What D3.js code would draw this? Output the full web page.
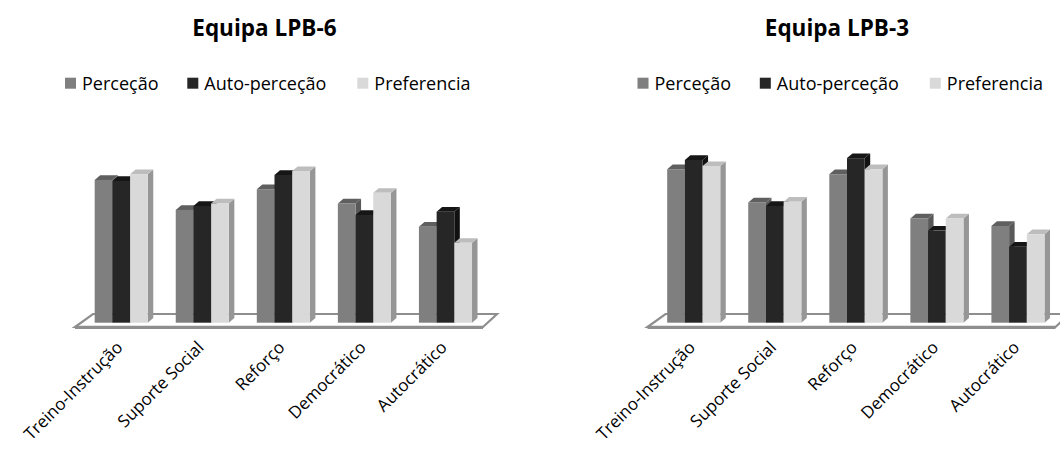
<!DOCTYPE html>
<html>
<head>
<meta charset="utf-8">
<script src="https://cdn.jsdelivr.net/npm/d3@7"></script>
<style>
  html, body { margin: 0; padding: 0; background: #ffffff; }
  svg { display: block; }
  text { font-family: "Open Sans", "Noto Sans", sans-serif; fill: #000; }
</style>
</head>
<body>
<svg id="chart" width="1060" height="450"></svg>
<script>
// ---------- DATA ----------
const categories = ["Treino-Instrução", "Suporte Social", "Reforço", "Democrático", "Autocrático"];
const seriesNames = ["Perceção", "Auto-perceção", "Preferencia"];
const chartTitles = ["Equipa LPB-6", "Equipa LPB-3"];

const lpb6Percecao      = [4.00, 3.16, 3.74, 3.34, 2.69];
const lpb6AutoPercecao  = [3.97, 3.27, 4.14, 3.02, 3.11];
const lpb6Preferencia   = [4.16, 3.34, 4.25, 3.64, 2.24];

const lpb3Percecao      = [4.30, 3.37, 4.16, 2.92, 2.71];
const lpb3AutoPercecao  = [4.56, 3.27, 4.61, 2.58, 2.13];
const lpb3Preferencia   = [4.39, 3.39, 4.30, 2.92, 2.48];

const valueDomain = [0, 5];

// ---------- STYLE ----------
const colors = {
  front: ["#7f7f7f", "#262626", "#d9d9d9"],
  top:   ["#5f5f5f", "#161616", "#bdbdbd"],
  side:  ["#595959", "#111111", "#969696"]
};
const floorStroke = "#8e8e8e";

const svg = d3.select("#chart");

function drawChart(offsetX, title, seriesData) {
  const g = svg.append("g").attr("transform", `translate(${offsetX},0)`);

  // scales
  const x = d3.scaleBand().domain(categories).range([80.7, 486])
    .paddingInner(0.345).paddingOuter(0.1725);
  const xs = d3.scaleBand().domain(seriesNames).range([0, x.bandwidth()]);
  const y = d3.scaleLinear().domain(valueDomain).range([322.7, 144.2]);

  const dx = 5.5, dy = 4.6;
  const base = y(0);

  // floor (3D slab outline)
  const backY = 314, frontY = 327;
  const floorPts = [[93, backY], [497, backY], [483, frontY], [75, frontY]];
  g.append("path")
    .attr("d", d3.line()(floorPts) + "Z")
    .attr("fill", "#ffffff")
    .attr("stroke", floorStroke)
    .attr("stroke-width", 2.2)
    .attr("stroke-linejoin", "miter");
  g.append("line")
    .attr("x1", 75).attr("x2", 483).attr("y1", frontY + 0.4).attr("y2", frontY + 0.4)
    .attr("stroke", floorStroke).attr("stroke-width", 3.2);

  // bars
  categories.forEach((cat, ci) => {
    seriesNames.forEach((s, si) => {
      const v = seriesData[si][ci];
      const x0 = x(cat) + xs(s);
      const w = xs.bandwidth();
      const yt = y(v);
      const bg = g.append("g");
      bg.append("path")
        .attr("d", `M${x0 + w},${base} L${x0 + w + dx},${base - dy} L${x0 + w + dx},${yt - dy} L${x0 + w},${yt} Z`)
        .attr("fill", colors.side[si]);
      bg.append("path")
        .attr("d", `M${x0},${yt} L${x0 + dx},${yt - dy} L${x0 + w + dx},${yt - dy} L${x0 + w},${yt} Z`)
        .attr("fill", colors.top[si]);
      bg.append("rect")
        .attr("x", x0).attr("y", yt)
        .attr("width", w).attr("height", base - yt)
        .attr("fill", colors.front[si]);
    });
  });

  // category labels
  categories.forEach(cat => {
    const cx = x(cat) + x.bandwidth() / 2 + 2.5;
    const cy = 348.5;
    g.append("text")
      .attr("transform", `translate(${cx},${cy}) rotate(-45)`)
      .attr("text-anchor", "end")
      .attr("font-size", 17)
      .text(cat);
  });

  // title
  g.append("text")
    .attr("x", 264.4).attr("y", 35.7)
    .attr("text-anchor", "middle")
    .attr("font-size", 22.5)
    .attr("font-weight", "bold")
    .text(title);

  // legend
  const legendX = [65, 187.3, 357.3];
  seriesNames.forEach((s, si) => {
    g.append("rect")
      .attr("x", legendX[si]).attr("y", 77.7)
      .attr("width", 11).attr("height", 11)
      .attr("fill", colors.front[si]);
    g.append("text")
      .attr("x", legendX[si] + 17).attr("y", 90)
      .attr("font-size", 18)
      .text(s);
  });
}

drawChart(0, chartTitles[0], [lpb6Percecao, lpb6AutoPercecao, lpb6Preferencia]);
drawChart(572.5, chartTitles[1], [lpb3Percecao, lpb3AutoPercecao, lpb3Preferencia]);
</script>
</body>
</html>
